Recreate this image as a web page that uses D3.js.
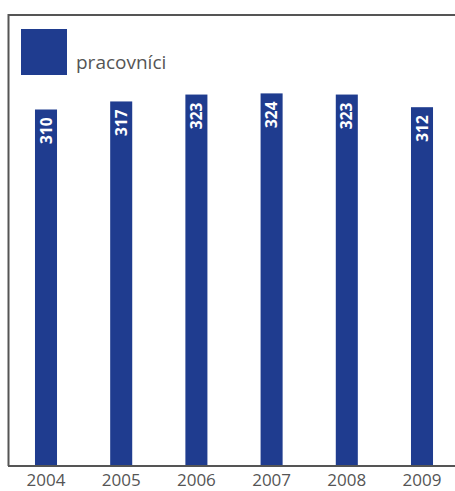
<!DOCTYPE html>
<html>
<head>
<meta charset="utf-8">
<script src="https://cdn.jsdelivr.net/npm/d3@7"></script>
<style>
  body { margin: 0; background: #fff; }
  svg { display: block; font-family: "Open Sans", "Noto Sans", sans-serif; }
</style>
</head>
<body>
<div class="graphContainer"></div>
<script>
// size of the picture
const w = 455;
const h = 491;

// data
const years = ["2004", "2005", "2006", "2007", "2008", "2009"];
const workers = [310, 317, 323, 324, 323, 312];
const seriesName = "pracovníci";

const barColor = "#1f3c8f";
const lineColor = "#555555";

const svg = d3.select(".graphContainer").append("svg")
  .attr("width", w)
  .attr("height", h);

// scales
const xScale = d3.scaleBand()
  .domain(years)
  .range([8.4, 459.6])
  .paddingInner(0.707)
  .paddingOuter(0.3535);

const yScale = d3.scaleLinear()
  .domain([0, 400])
  .range([466, 6]);

// frame (left + top)
svg.append("line")
  .attr("x1", 8.5).attr("x2", 8.5)
  .attr("y1", 14).attr("y2", 466)
  .attr("stroke", lineColor).attr("stroke-width", 2);
svg.append("line")
  .attr("x1", 8).attr("x2", w)
  .attr("y1", 15).attr("y2", 15)
  .attr("stroke", lineColor).attr("stroke-width", 2);

// bars
svg.selectAll("rect.bar")
  .data(workers)
  .enter()
  .append("rect")
  .attr("class", "bar")
  .attr("x", (d, i) => xScale(years[i]))
  .attr("y", d => yScale(d))
  .attr("width", xScale.bandwidth())
  .attr("height", d => yScale(0) - yScale(d))
  .attr("fill", barColor);

// value labels (rotated, inside bar top)
svg.selectAll("text.val")
  .data(workers)
  .enter()
  .append("text")
  .attr("class", "val")
  .attr("transform", (d, i) => `translate(${xScale(years[i]) + xScale.bandwidth() / 2},${yScale(d) + 8}) rotate(-90)`)
  .attr("text-anchor", "end")
  .attr("dy", "0.36em")
  .attr("fill", "#fff")
  .style("font-weight", "bold")
  .style("font-size", "15.5px")
  .text(d => d);

// x axis
const xAxis = d3.axisBottom(xScale).tickSize(0).tickPadding(0);
const gx = svg.append("g")
  .attr("transform", "translate(0,466)")
  .call(xAxis);
gx.select(".domain").remove();
gx.selectAll("text")
  .attr("y", 20)
  .attr("dy", null)
  .attr("fill", lineColor)
  .style("font-size", "17px")
  .style("font-family", "\"Open Sans\", \"Noto Sans\", sans-serif");
svg.append("line")
  .attr("x1", 8).attr("x2", w)
  .attr("y1", 466).attr("y2", 466)
  .attr("stroke", lineColor).attr("stroke-width", 2);

// legend
svg.append("rect")
  .attr("x", 21).attr("y", 29)
  .attr("width", 46).attr("height", 46)
  .attr("fill", barColor);
svg.append("text")
  .attr("x", 76).attr("y", 69)
  .attr("fill", lineColor)
  .style("font-size", "19px")
  .text(seriesName);
</script>
</body>
</html>
